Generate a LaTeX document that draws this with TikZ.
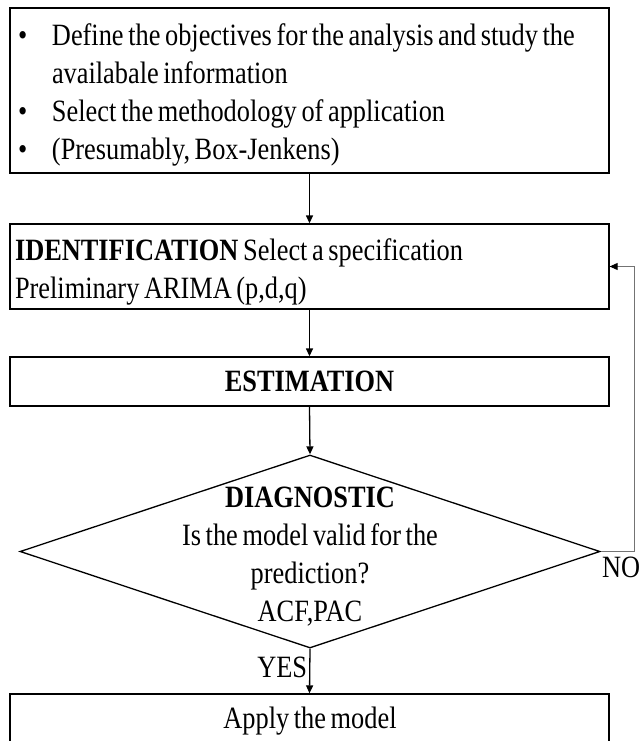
\documentclass[tikz,border=0pt]{standalone}
\usepackage{fontspec}
\setmainfont{Liberation Serif}[FakeStretch=0.85,WordSpace=0.7]
\usetikzlibrary{shapes.geometric,arrows.meta}
\newcommand{\natspace}{\spaceskip=0pt\xspaceskip=0pt\relax}
\begin{document}
\begin{tikzpicture}[x=1pt,y=-1pt,
  txt/.style={font=\fontsize{31}{38}\selectfont},
  box/.style={draw=black,line width=1.3pt,minimum width=599pt,inner sep=0pt,txt},
  conn/.style={draw=black,line width=1.3pt,-{Triangle[length=8pt,width=7pt]}},
  fb/.style={draw=black!55,line width=0.9pt,-{Triangle[length=8pt,width=7pt,color=black]}},
  lbl/.style={txt,inner sep=2pt}]
\useasboundingbox (0,0) rectangle (641,741);
\clip (0,0) rectangle (641,741);

% top box
\node[box,minimum height=165pt,text width=583pt,inner xsep=8pt,align=left] (obj) at (309.5,90.5)
{\natspace\raisebox{-4pt}[\height][\depth]{\begin{tabular}{@{}p{34pt}@{}l@{}}
\textbullet & Define the objectives for the analysis and study the\\
 & availabale information\\
\textbullet & Select the methodology of application\\
\textbullet & (Presumably, Box-Jenkens)
\end{tabular}}};

% identification
\node[box,minimum height=85pt,text width=589pt,inner xsep=5pt,align=left] (ident) at (309.5,266.5)
{\natspace\raisebox{-5pt}[\height][\depth]{\begin{tabular}{@{}l@{}}
\textbf{IDENTIFICATION} Select a specification\\
Preliminary ARIMA (p,d,q)
\end{tabular}}};

% estimation
\node[box,minimum height=49pt] (est) at (309.5,381.5) {\textbf{ESTIMATION}};

% diagnostic
\node[draw=black,line width=1.3pt,diamond,minimum width=580pt,minimum height=193pt,inner sep=0pt] (diag) at (310,551.5) {};
\node[txt,align=center] (diagtext) at (310,557) {\natspace\textbf{DIAGNOSTIC}\\Is the model valid for the\\prediction?\\ACF,PAC};

% apply
\node[box,minimum height=80pt] (apply) at (309.5,734) {};
\node[txt] (applytext) at (310,721) {Apply the model};

% connectors
\draw[conn] (obj.south) -- (ident.north);
\draw[conn] (ident.south) -- (est.north);
\draw[conn] (est.south) -- (diag.north);
\draw[conn] (diag.south) -- node[lbl,anchor=east,pos=0.42] (yes) {YES} (apply.north);
\draw[fb] (diag.east) -- ++(34,0) coordinate (fbc) |- (ident.east);
\node[lbl,anchor=north west,inner sep=0pt] (no) at (602,557) {NO};
\end{tikzpicture}
\end{document}
